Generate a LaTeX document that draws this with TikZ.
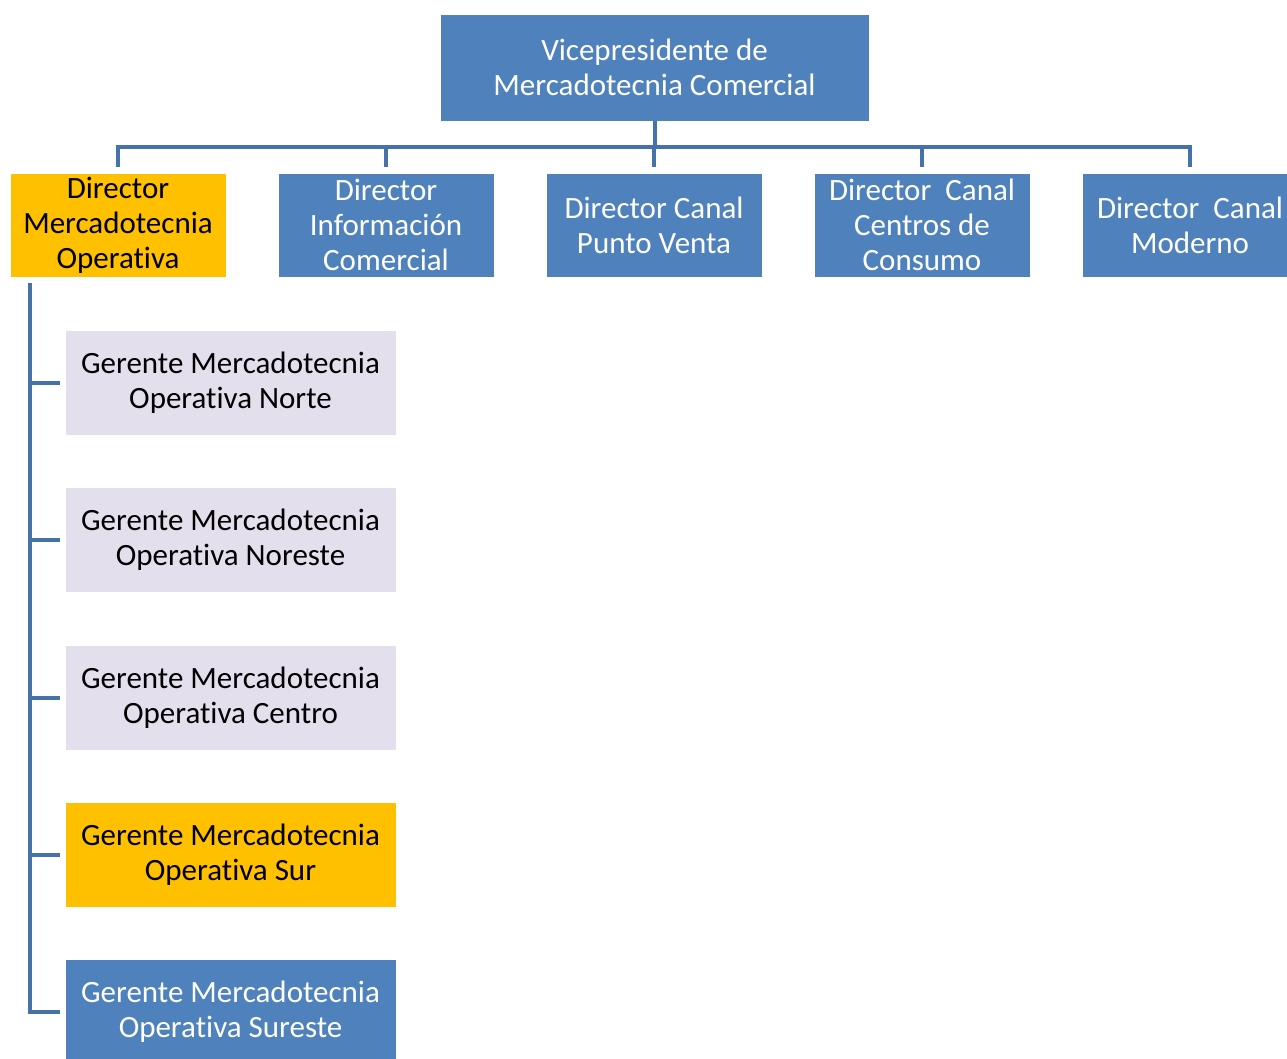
\documentclass[tikz,border=0pt]{standalone}
\usepackage{fontspec}
\setmainfont{Carlito}[Ligatures={NoCommon}]
\definecolor{boxblue}{HTML}{4F81BD}
\definecolor{linkblue}{HTML}{4672AC}
\definecolor{gold}{HTML}{FFC000}
\definecolor{lilac}{HTML}{E4DFEC}
\tikzset{
  box/.style={rectangle, inner sep=0pt, align=center, draw=white, line width=0.6pt,
    font=\fontsize{31}{35}\selectfont},
  dirbox/.style={box, minimum width=216pt, minimum height=104pt},
  gerbox/.style={box, minimum width=331pt, minimum height=105pt},
  bluebox/.style={fill=boxblue, text=white},
  goldbox/.style={fill=gold, text=black},
  lilacbox/.style={fill=lilac, text=black},
  conn/.style={draw=linkblue, line width=4pt, line join=miter}
}
\begin{document}
\begin{tikzpicture}[x=1pt,y=-1pt]
\useasboundingbox (0,0) rectangle (1287,1059);
\clip (0,0) rectangle (1287,1059);
\fill[white] (0,0) rectangle (1287,1059);

\node[box, bluebox, minimum width=429pt, minimum height=107pt] (vp) at (654.5,67.5)
  {Vicepresidente de\\Mercadotecnia Comercial};

\node[dirbox, goldbox] (d1) at (118,225) {Director\\Mercadotecnia\\Operativa};
\node[dirbox, bluebox] (d2) at (386,225) {Director\\Información\\Comercial};
\node[dirbox, bluebox] (d3) at (654,225) {Director Canal\\Punto Venta};
\node[dirbox, bluebox] (d4) at (922,225) {Director~ Canal\\Centros de\\Consumo};
\node[dirbox, bluebox] (d5) at (1190,225) {Director~ Canal\\Moderno};

\coordinate (bar) at (654,147);
\draw[conn] (vp.south) -- (vp.south |- bar);
\draw[conn] ([yshift=6pt]d1.north) |- (d5.north |- bar) -- ([yshift=6pt]d5.north);
\draw[conn] (d2.north |- bar) -- ([yshift=6pt]d2.north);
\draw[conn] (d3.north |- bar) -- ([yshift=6pt]d3.north);
\draw[conn] (d4.north |- bar) -- ([yshift=6pt]d4.north);

\node[gerbox, lilacbox] (g1) at (230.5,382.5) {Gerente Mercadotecnia\\Operativa Norte};
\node[gerbox, lilacbox] (g2) at (230.5,539.5) {Gerente Mercadotecnia\\Operativa Noreste};
\node[gerbox, lilacbox] (g3) at (230.5,697.5) {Gerente Mercadotecnia\\Operativa Centro};
\node[gerbox, goldbox] (g4) at (230.5,854.5) {Gerente Mercadotecnia\\Operativa Sur};
\node[gerbox, bluebox] (g5) at (230.5,1011.5) {Gerente Mercadotecnia\\Operativa Sureste};

\coordinate (trunk) at ([xshift=20pt,yshift=-6pt]d1.south west);
\draw[conn] (trunk) |- ([xshift=-5pt]g5.west);
\draw[conn] (trunk |- g1.west) -- ([xshift=-5pt]g1.west);
\draw[conn] (trunk |- g2.west) -- ([xshift=-5pt]g2.west);
\draw[conn] (trunk |- g3.west) -- ([xshift=-5pt]g3.west);
\draw[conn] (trunk |- g4.west) -- ([xshift=-5pt]g4.west);
\end{tikzpicture}
\end{document}
